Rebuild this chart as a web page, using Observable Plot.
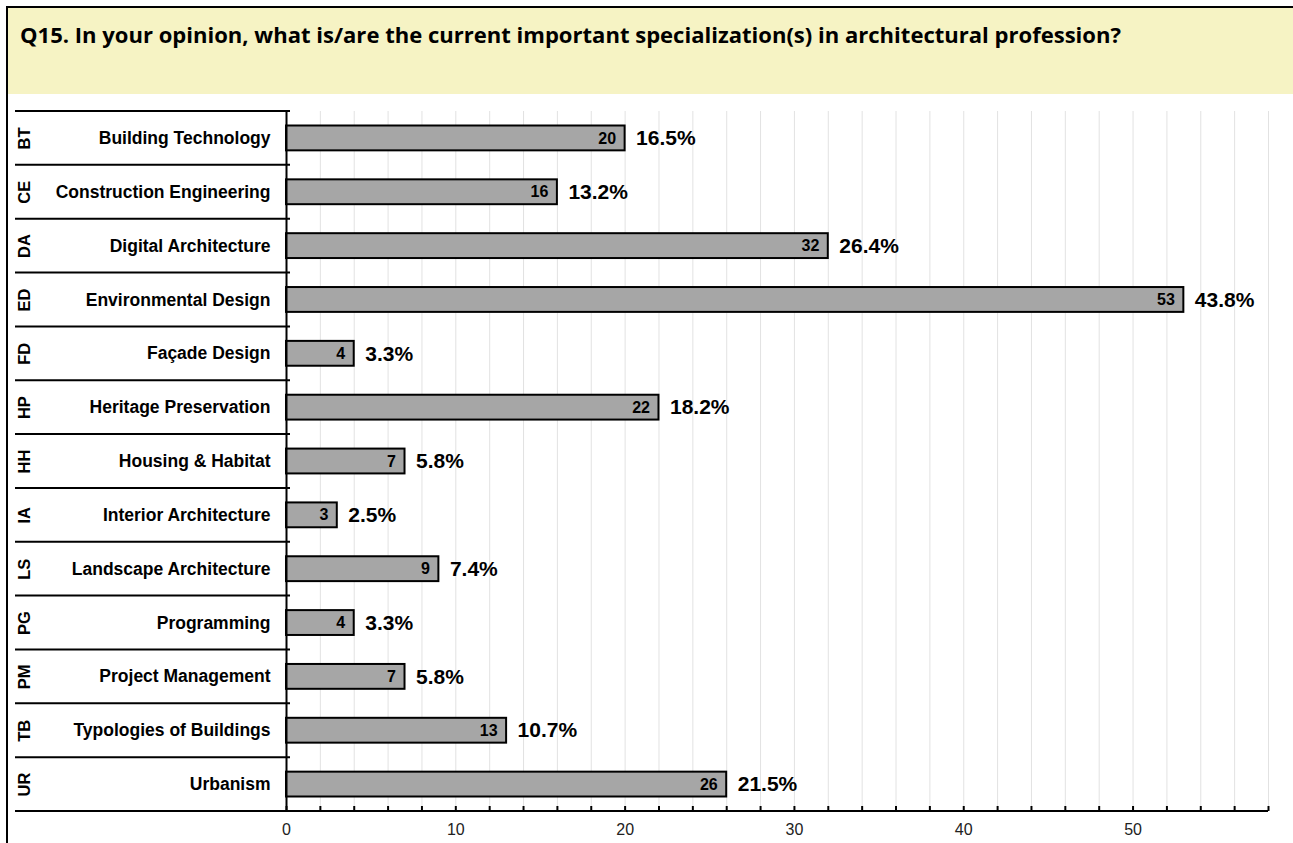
<!DOCTYPE html>
<html>
<head>
<meta charset="utf-8">
<script src="https://cdn.jsdelivr.net/npm/d3@7"></script>
<script src="https://cdn.jsdelivr.net/npm/@observablehq/plot@0.6"></script>
<style>
  html, body { margin: 0; padding: 0; background: #fff; overflow: hidden; }
  #page { position: relative; width: 1293px; height: 843px; }
  #title {
    position: absolute; left: 8px; top: 8px; width: 1290px; height: 86px;
    background: #F6F3C4; box-sizing: border-box; padding: 13px 0 0 12px;
  }
  #title span {
    display: inline-block; transform-origin: 0 0;
    font-family: "Open Sans", Lato, sans-serif; font-weight: 700; font-size: 21px;
    color: #000; white-space: nowrap;
  }
  #chart { position: absolute; left: 0; top: 95px; line-height: 0; }
  #frame {
    position: absolute; left: 6px; top: 6px; width: 1400px; height: 1000px;
    border: 2px solid #000; pointer-events: none;
  }
</style>
</head>
<body>
<div id="page">
  <div id="title"><span id="titleText">Q15. In your opinion, what is/are the current important specialization(s) in architectural profession?</span></div>
  <div id="chart"></div>
  <div id="frame"></div>
</div>
<script>
const codes = ["BT","CE","DA","ED","FD","HP","HH","IA","LS","PG","PM","TB","UR"];
const labels = ["Building Technology","Construction Engineering","Digital Architecture","Environmental Design","Façade Design","Heritage Preservation","Housing & Habitat","Interior Architecture","Landscape Architecture","Programming","Project Management","Typologies of Buildings","Urbanism"];
const counts = [20,16,32,53,4,22,7,3,9,4,7,13,26];
const percents = [16.5,13.2,26.4,43.8,3.3,18.2,5.8,2.5,7.4,3.3,5.8,10.7,21.5];
const majorTicks = [0,10,20,30,40,50];
const minorTicks = d3.range(0, 58.001, 2);

const data = codes.map((c, i) => ({code: c, label: labels[i], count: counts[i], pct: percents[i]}));
const font = "'Liberation Sans', Arial, sans-serif";

const chart = Plot.plot({
  width: 1293, height: 748,
  marginLeft: 286, marginRight: 25, marginTop: 16, marginBottom: 32,
  x: {domain: [0, 58], axis: null},
  y: {domain: codes, padding: 0, round: false, axis: null},
  style: {fontFamily: font, background: "transparent", color: "#000"},
  marks: [
    Plot.ruleX(minorTicks, {stroke: "#e2e2e2", strokeWidth: 1}),
    Plot.barX(data, {x: "count", y: "code", fill: "#A6A6A6", stroke: "#000", strokeWidth: 2, insetTop: 14.5, insetBottom: 14.5}),
    Plot.text(data, {x: "count", y: "code", text: d => String(d.count), textAnchor: "end", dx: -9, fontWeight: "bold", fontSize: 16, fill: "#000"}),
    Plot.text(data, {x: "count", y: "code", text: d => d.pct.toFixed(1) + "%", textAnchor: "start", dx: 11, fontWeight: "bold", fontSize: 21, fill: "#000"}),
    Plot.text(data, {x: 0, y: "code", text: "label", textAnchor: "end", dx: -16, fontWeight: "bold", fontSize: 17.5, fill: "#000"}),
    Plot.text(data, {x: 0, y: "code", text: "code", rotate: -90, dx: -262, fontWeight: "bold", fontSize: 16.5, fill: "#000"}),
    Plot.ruleX(minorTicks, {stroke: "#000", strokeWidth: 2, insetTop: 695}),
    Plot.ruleX([0], {stroke: "#000", strokeWidth: 2}),
    Plot.text(majorTicks, {x: d => d, text: d => String(d), frameAnchor: "bottom", dy: 23, fontSize: 16, fill: "#222"})
  ]
});

// table separator lines and axis baseline, positioned through Plot's scales
const sx = chart.scale("x");
const sy = chart.scale("y");
const svg = d3.select(chart);
const bounds = codes.map(c => sy.apply(c));
bounds.push(sy.apply(codes[codes.length - 1]) + sy.bandwidth);
const x0 = sx.apply(0);
const tableLeft = 15;
svg.append("g")
  .selectAll("line")
  .data(bounds)
  .join("line")
  .attr("x1", tableLeft)
  .attr("x2", (d, i) => i === bounds.length - 1 ? sx.apply(58) : x0 + 4)
  .attr("y1", d => d).attr("y2", d => d)
  .attr("stroke", "#000").attr("stroke-width", 2);

document.getElementById("chart").appendChild(chart);

// fit title width to the reference's span
const t = document.getElementById("titleText");
const w = t.getBoundingClientRect().width;
t.style.transform = `scaleX(${1101 / w})`;
</script>
</body>
</html>
